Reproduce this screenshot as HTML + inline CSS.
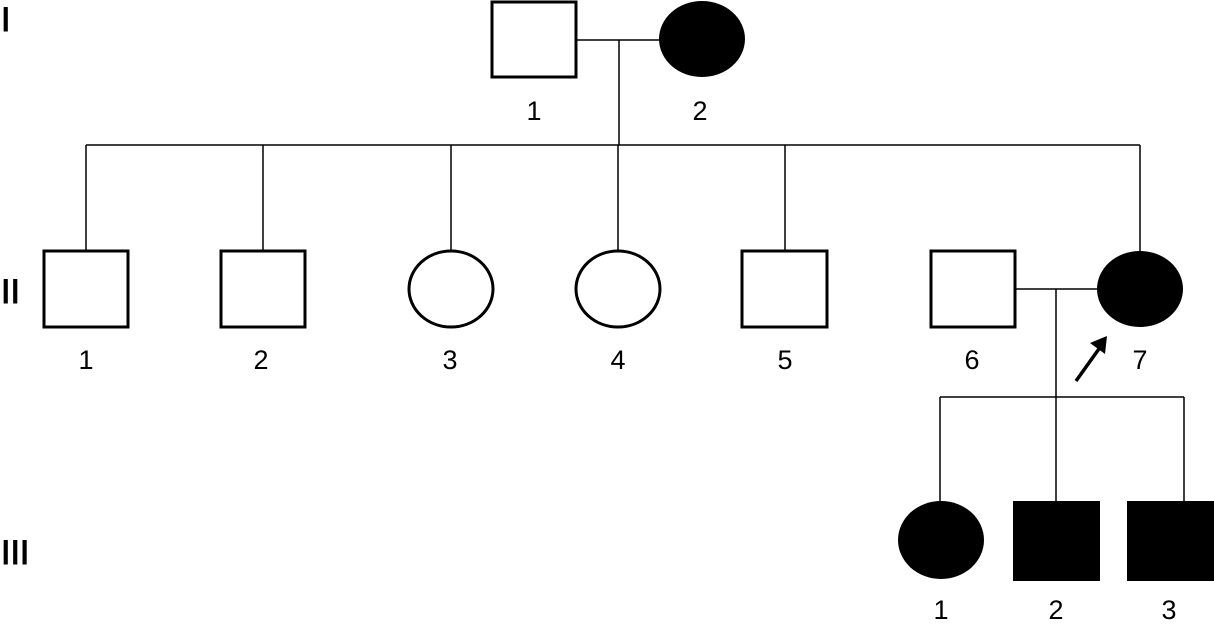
<!DOCTYPE html>
<html><head><style>html,body{margin:0;padding:0;background:#fff;}svg{display:block}</style></head>
<body>
<svg width="1214" height="625" viewBox="0 0 1214 625" xmlns="http://www.w3.org/2000/svg" font-family="Liberation Sans, sans-serif">
<g stroke="#000" stroke-width="1.5" fill="none">
<line x1="576" y1="40" x2="659" y2="40"/>
<line x1="619" y1="40" x2="619" y2="145"/>
<line x1="86" y1="145" x2="1140" y2="145"/>
<line x1="86" y1="145" x2="86" y2="251"/>
<line x1="263" y1="145" x2="263" y2="251"/>
<line x1="451" y1="145" x2="451" y2="251"/>
<line x1="618" y1="145" x2="618" y2="251"/>
<line x1="785" y1="145" x2="785" y2="251"/>
<line x1="1140" y1="145" x2="1140" y2="251"/>
<line x1="1015" y1="289" x2="1097" y2="289"/>
<line x1="1056" y1="289" x2="1056" y2="397"/>
<line x1="940" y1="397" x2="1184" y2="397"/>
<line x1="940" y1="397" x2="940" y2="501"/>
<line x1="1056" y1="397" x2="1056" y2="501"/>
<line x1="1184" y1="397" x2="1184" y2="501"/>
</g>
<g stroke="#000" stroke-width="3" fill="#fff">
<rect x="492" y="2" width="84" height="75"/>
<rect x="44" y="251" width="84" height="76"/>
<rect x="221" y="251" width="84" height="76"/>
<ellipse cx="451" cy="289" rx="42" ry="38"/>
<ellipse cx="618" cy="289" rx="42" ry="38"/>
<rect x="742" y="251" width="85" height="76"/>
<rect x="931" y="251" width="84" height="76"/>
</g>
<g fill="#000">
<ellipse cx="702" cy="39" rx="43" ry="38"/>
<ellipse cx="1140" cy="289" rx="43" ry="38"/>
<ellipse cx="941" cy="540" rx="43" ry="39"/>
<rect x="1013" y="501" width="87" height="80"/>
<rect x="1127" y="501" width="87" height="80"/>
</g>
<line x1="1076" y1="381" x2="1101" y2="346" stroke="#000" stroke-width="3.5"/>
<polygon points="1090,343 1107,336 1105,354" fill="#000"/>
<g font-size="27" fill="#000" text-anchor="middle">
<text x="534" y="120">1</text><text x="700" y="120">2</text>
<text x="86" y="369">1</text><text x="261" y="369">2</text><text x="450" y="369">3</text>
<text x="618" y="369">4</text><text x="785" y="369">5</text><text x="972" y="369">6</text><text x="1140" y="369">7</text>
<text x="941" y="619">1</text><text x="1056" y="619">2</text><text x="1169" y="619">3</text>
</g>
<g font-size="34" fill="#000" stroke="#000" stroke-width="1">
<text x="1" y="31">I</text><text x="1" y="303">II</text><text x="1" y="564">III</text>
</g>
</svg>
</body></html>
